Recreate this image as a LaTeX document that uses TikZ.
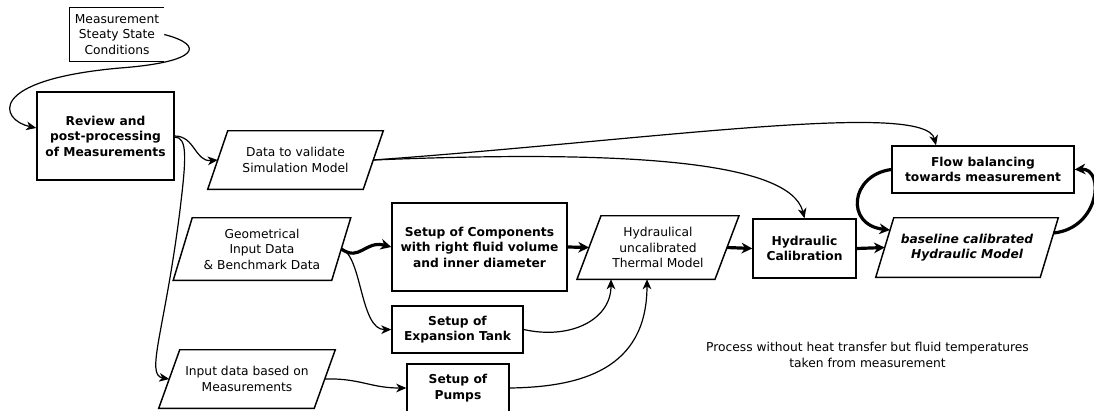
\documentclass[tikz,border=0pt]{standalone}
\usepackage{fontspec}
\setmainfont{DejaVu Sans}
\usetikzlibrary{arrows.meta,calc}

% half-slant parallelogram drawn round a (borderless) node
\newcommand\drawpara[2]{%
  \draw[boxline] ($(#1.north west)+(#2,0)$) -- ($(#1.north east)+(#2,0)$)
    -- ($(#1.south east)+(-#2,0)$) -- ($(#1.south west)+(-#2,0)$) -- cycle;}

\begin{document}
\begin{tikzpicture}[x=0.75pt,y=-0.75pt,
  every node/.style={font=\fontsize{9.2}{11.6}\selectfont, align=center, inner sep=0pt},
  boxline/.style={line width=1.1pt, line join=miter},
  procbox/.style={draw, boxline, font=\fontsize{9.2}{11.6}\selectfont\bfseries},
  databox/.style={draw=none},
  conn/.style={line width=0.9pt, -{Stealth[length=7.5pt,width=6.5pt,inset=2.2pt]}},
  thickconn/.style={line width=2.4pt, -{Stealth[length=8pt,width=8pt,inset=2.5pt]}},
]
\useasboundingbox (0,0) rectangle (1094,410);
\clip (0,0) rectangle (1094,410);

% input document
\node[databox, minimum width=70.5pt, minimum height=39.75pt] (meas) at (117,34.5)
  {Measurement\\Steaty State\\Conditions};
\draw[boxline] (meas.north east) -- (meas.north west) -- (meas.south west) -- (meas.south east);

% process steps
\node[procbox, minimum width=102.75pt, minimum height=66pt] (rev) at (105.5,136)
  {Review and\\post-processing\\of Measurements};
\node[procbox, minimum width=131.25pt, minimum height=66pt] (comp) at (479.5,247)
  {Setup of Components\\with right fluid volume\\and inner diameter};
\node[procbox, minimum width=98.25pt, minimum height=35.25pt] (tank) at (457.5,329.5)
  {Setup of\\Expansion Tank};
\node[procbox, minimum width=76.5pt, minimum height=36pt] (pump) at (458,388)
  {Setup of\\Pumps};
\node[procbox, minimum width=77.25pt, minimum height=44.25pt] (hc) at (804.5,248.5)
  {Hydraulic\\Calibration};
\node[procbox, minimum width=136.5pt, minimum height=35.25pt] (fb) at (983,169.5)
  {Flow balancing\\towards measurement};

% data items
\node[databox, minimum width=116.25pt, minimum height=43.5pt] (dv) at (295.5,160)
  {Data to validate\\Simulation Model};
\drawpara{dv}{10}
\node[databox, minimum width=118.5pt, minimum height=46.5pt] (geo) at (262,249)
  {Geometrical\\Input Data\\\& Benchmark Data};
\drawpara{geo}{9.5}
\node[databox, minimum width=116.25pt, minimum height=43.5pt] (inp) at (247,379)
  {Input data based on\\Measurements};
\drawpara{inp}{10.5}
\node[databox, minimum width=103.1pt, minimum height=47.25pt] (hyd) at (658,247.5)
  {Hydraulical\\uncalibrated\\Thermal Model};
\drawpara{hyd}{12}
\node[databox, minimum width=123pt, minimum height=44.25pt,
      font=\fontsize{9.2}{11.6}\selectfont\bfseries\itshape] (bl) at (967,247.5)
  {baseline calibrated\\Hydraulic Model};
\drawpara{bl}{9}

% remark
\node (note) at (867.5,355)
  {Process without heat transfer but fluid temperatures\\taken from measurement};

% connectors
\draw[conn] (meas.east) .. controls (205,45) and (200,62) .. (120,68)
  .. controls (-15,80) and (0,120) .. ($(rev.west)+(0,-8)$);
\draw[conn] (rev.east) .. controls (195,136) and (195,162) .. (dv.west);
\draw[conn] ($(rev.east)+(0,1)$) .. controls (188,137) and (186,160) .. (180,210)
  .. controls (165,330) and (145,375) .. (inp.west);
\draw[conn] (dv.east) .. controls (650,140) and (925,100) .. ($(fb.north)+(-47,0)$);
\draw[conn] (dv.east) .. controls (620,150) and (790,160) .. (hc.north);
\draw[thickconn] (geo.east) .. controls (360,262) and (365,240) .. (comp.west);
\draw[conn] (geo.east) .. controls (362,255) and (360,330) .. (tank.west);
\draw[conn] (inp.east) .. controls (360,378) and (370,388) .. (pump.west);
\draw[thickconn] (comp.east) -- (hyd.west);
\draw[conn] (tank.east) .. controls (570,340) and (611,320) .. ($(hyd.south)+(-47,0)$);
\draw[conn] (pump.east) .. controls (580,387) and (647,370) .. ($(hyd.south)+(-11,0)$);
\draw[thickconn] (hyd.east) -- (hc.west);
\draw[thickconn] (hc.east) -- (bl.west);
\draw[thickconn] (fb.west) .. controls (850,175) and (845,225) .. ($(bl.west)+(5.3,-17.5)$);
\draw[thickconn] ($(bl.east)+(4.4,-14.5)$) .. controls (1100,228) and (1105,168) .. (fb.east);
\end{tikzpicture}
\end{document}
